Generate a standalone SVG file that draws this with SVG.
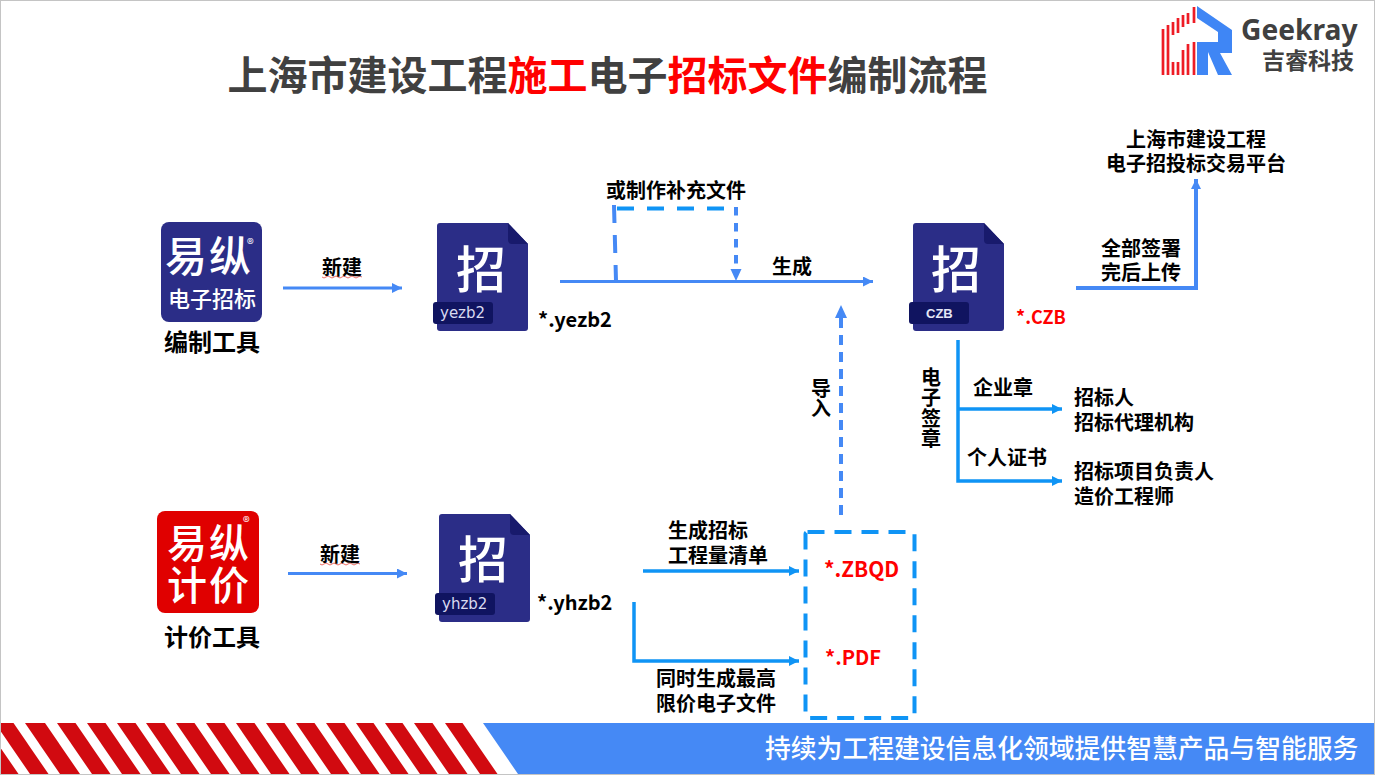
<svg xmlns="http://www.w3.org/2000/svg" xmlns:xlink="http://www.w3.org/1999/xlink" width="1375" height="775" viewBox="0 0 1375 775">
<style>
text{font-family:"Noto Sans CJK SC","Noto Sans",sans-serif;font-weight:700;fill:#000}
.l{font-size:20px}
.t{font-size:40px;fill:#404040}
.r{fill:#f00}
.ext{font-size:20px}
.tool{font-size:24px}
.glyph{font-size:50px;fill:#fff;text-anchor:middle;font-weight:500}
.tag{font-size:15px;fill:#d8daf0;font-weight:400;font-family:"DejaVu Sans",sans-serif}
.logo{fill:#fff;font-weight:500}
.reg{font-size:14px;font-weight:400;fill:#fff}
.a{fill:none;stroke:#4589f5;stroke-width:3}
.b{fill:none;stroke:#0f94f5;stroke-width:3.5}
.c{fill:none;stroke-width:4}
.w{fill:none;stroke:#e8483c;stroke-width:.8}
</style>
<defs>
<marker id="ma" markerUnits="userSpaceOnUse" markerWidth="12" markerHeight="12" refX="10" refY="5" orient="auto"><path d="M0 0L10 5L0 10z" fill="#4589f5"/></marker>
<marker id="mb" markerUnits="userSpaceOnUse" markerWidth="12" markerHeight="12" refX="10" refY="5" orient="auto"><path d="M0 0L10 5L0 10z" fill="#0f94f5"/></marker>
<clipPath id="band"><rect x="1" y="723" width="600" height="51"/></clipPath>
<g id="doc">
<path d="M3 0H71L91 21V105Q91 108 88 108H3Q0 108 0 105V3Q0 0 3 0z" fill="#2b2d87"/>
<path d="M71 0L91 21H75Q71 21 71 17z" fill="#181a6c"/>
<rect x="-4" y="79" width="60" height="22" rx="3" fill="#101460"/>
</g>
</defs>

<rect x="0.5" y="0.5" width="1374" height="774" fill="#fff" stroke="#c4c4c4"/>

<g id="footer">
<polygon points="483,723 1374,723 1374,774 518,774" fill="#4589f5"/>
<g clip-path="url(#band)" fill="#d10a10">
<polygon points="-35,723 -16.500,723 18.500,774 0,774"/>
<polygon points="-5,723 13.500,723 48.500,774 30,774"/>
<polygon points="25,723 45,723 80,774 60,774"/>
<polygon points="57,723 75.500,723 110.500,774 92,774"/>
<polygon points="87,723 105.500,723 140.500,774 122,774"/>
<polygon points="117,723 135.500,723 170.500,774 152,774"/>
<polygon points="146,723 164.500,723 199.500,774 181,774"/>
<polygon points="176,723 194.500,723 229.500,774 211,774"/>
<polygon points="206,723 224.500,723 259.500,774 241,774"/>
<polygon points="236,723 254.500,723 289.500,774 271,774"/>
<polygon points="266,723 284.500,723 319.500,774 301,774"/>
<polygon points="296,723 314.500,723 349.500,774 331,774"/>
<polygon points="326,723 344.500,723 379.500,774 361,774"/>
<polygon points="356,723 373.500,723 408.500,774 391,774"/>
<polygon points="385,723 402.500,723 437.500,774 420,774"/>
<polygon points="414,723 432.500,723 467.500,774 449,774"/>
<polygon points="445,723 462.500,723 497.500,774 480,774"/>
</g>
<text x="765" y="758" font-size="25.800" style="fill:#fff;font-weight:500">持续为工程建设信息化领域提供智慧产品与智能服务</text>
</g>

<g id="title">
<text x="227.500" y="90" class="t">上海市建设工程<tspan class="r">施工</tspan>电子<tspan class="r">招标文件</tspan>编制流程</text>
</g>

<g id="brand">
<path d="M1197 6L1232 30V53H1220L1232 75H1218L1208 52V75H1197zM1197 18V42H1218V32z" fill="#3f86f5" fill-rule="evenodd"/>
<path d="M1163 29V75M1168 25V75M1173 22V35M1173 62V75M1178 18V33M1178 62V75M1183 15V27M1183 50V75M1188 13V24M1188 44V75M1194 7V23M1194 42V75" stroke="#ee1c25" stroke-width="2.700" fill="none"/>
<text x="1241" y="40" font-size="28.200" style="fill:#404040;font-family:'Noto Sans',sans-serif">Geekray</text>
<text x="1262" y="69" font-size="23" style="fill:#404040">吉睿科技</text>
</g>

<g id="connectors">
<path class="a" d="M283 288H402" marker-end="url(#ma)"/>
<path class="a" d="M288 573.500H407" marker-end="url(#ma)"/>
<path class="a" d="M560 281.500H873" marker-end="url(#ma)"/>
<path class="c" stroke="#4589f5" stroke-dasharray="18 12" d="M614 205L616 281"/>
<path class="c" stroke="#0f94f5" stroke-dasharray="17 13" d="M617 208.500H736"/>
<path class="c" stroke="#4589f5" stroke-dasharray="8.500 7.500" d="M736 207V270"/>
<path d="M730.500 269H741.500L736 281z" fill="#4589f5"/>
<path class="c" stroke="#4589f5" stroke-dasharray="10 7" d="M841 515V317"/>
<path d="M835 318H847L841 305z" fill="#4589f5"/>
<path class="a" style="stroke-width:4" d="M1076 288H1196V179" marker-end="url(#ma)"/>
<path class="b" d="M958 340V481H1062" marker-end="url(#mb)"/>
<path class="b" d="M958 409H1062" marker-end="url(#mb)"/>
<path class="b" d="M643 571H799" marker-end="url(#mb)"/>
<path class="b" d="M634 602V661H799" marker-end="url(#mb)"/>
<rect class="c" stroke="#0f94f5" stroke-dasharray="17 10" x="805.500" y="532" width="109" height="186" rx="2"/>
<path class="w" d="M322 277q2 2 4 0t4 0t4 0t4 0t4 0t4 0t4 0t4 0t4 0t4 0"/>
<path class="w" d="M320 564q2 2 4 0t4 0t4 0t4 0t4 0t4 0t4 0t4 0t4 0t4 0"/>
</g>

<g id="tool-bid">
<rect x="161" y="222" width="101" height="100" rx="8" fill="#2b2d87"/>
<text class="logo" x="165" y="272" font-size="42" letter-spacing="2">易纵<tspan class="reg" dx="-6" dy="-23">®</tspan></text>
<text class="logo" x="168" y="307" font-size="22">电子招标</text>
<text x="164" y="351" class="tool">编制工具</text>
</g>
<g id="tool-price">
<rect x="157" y="511" width="102" height="102" rx="8" fill="#e00000"/>
<text class="logo" font-size="40" letter-spacing="2"><tspan x="167" y="558">易纵</tspan><tspan class="reg" dx="-8" dy="-31">®</tspan><tspan x="167" y="600">计价</tspan></text>
<text x="164" y="646" class="tool">计价工具</text>
</g>

<g id="doc-yezb2">
<use xlink:href="#doc" href="#doc" x="437" y="223"/>
<text x="481" y="288" class="glyph">招</text>
<text x="440" y="318" class="tag">yezb2</text>
<text x="538" y="327" class="ext">*.yezb2</text>
</g>
<g id="doc-yhzb2">
<use xlink:href="#doc" href="#doc" x="439" y="514"/>
<text x="483" y="578" class="glyph">招</text>
<text x="442" y="609" class="tag">yhzb2</text>
<text x="537" y="610" class="ext">*.yhzb2</text>
</g>
<g id="doc-czb">
<use xlink:href="#doc" href="#doc" x="913" y="223"/>
<text x="956" y="288" class="glyph">招</text>
<text x="926" y="318" style="font-size:13px;fill:#e4e6f5;font-weight:700;font-family:'Liberation Sans',sans-serif">CZB</text>
<text x="1016" y="324" class="ext r" style="font-size:18px">*.CZB</text>
</g>

<g id="files">
<text x="824" y="577" class="ext r" style="font-size:20.800px">*.ZBQD</text>
<text x="825" y="665" class="ext r">*.PDF</text>
</g>

<g id="platform">
<text class="l"><tspan x="1126" y="147">上海市建设工程</tspan><tspan x="1106" y="171">电子招投标交易平台</tspan></text>
</g>
<g id="signers">
<text class="l"><tspan x="1074" y="405">招标人</tspan><tspan x="1074" y="430">招标代理机构</tspan></text>
<text class="l"><tspan x="1074" y="479">招标项目负责人</tspan><tspan x="1074" y="504">造价工程师</tspan></text>
</g>

<g id="labels">
<text x="322" y="275" class="l">新建</text>
<text x="320" y="562" class="l">新建</text>
<text x="606" y="198" class="l">或制作补充文件</text>
<text x="772" y="274" class="l">生成</text>
<text class="l"><tspan x="1101" y="256">全部签署</tspan><tspan x="1101" y="280">完后上传</tspan></text>
<text x="973" y="395" class="l">企业章</text>
<text x="967" y="465" class="l">个人证书</text>
<text x="921 921 921 921" y="385 405 426 446" class="l">电子签章</text>
<text x="811 811" y="396 416" class="l">导入</text>
<text class="l"><tspan x="668" y="538">生成招标</tspan><tspan x="668" y="563">工程量清单</tspan></text>
<text class="l"><tspan x="656" y="686">同时生成最高</tspan><tspan x="656" y="711">限价电子文件</tspan></text>
</g>
</svg>
